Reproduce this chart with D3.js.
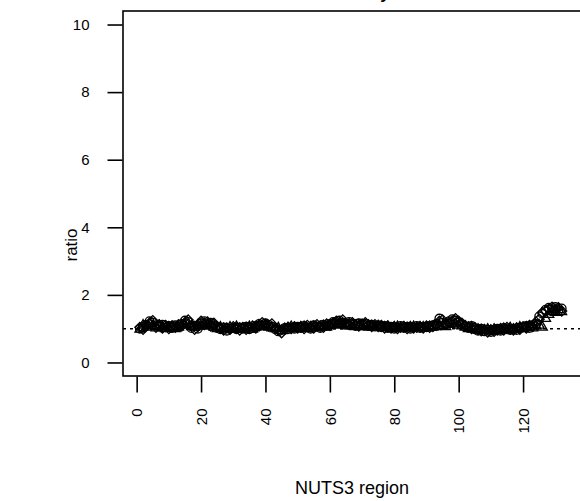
<!DOCTYPE html>
<html>
<head>
<meta charset="utf-8">
<script src="https://cdn.jsdelivr.net/npm/d3@7"></script>
<style>
  html, body { margin: 0; padding: 0; background: #fff; }
  svg { display: block; font-family: "Liberation Sans", Arial, sans-serif; }
</style>
</head>
<body>
<svg id="chart" width="580" height="501"></svg>
<script>
// Ratio per NUTS3 region, three series drawn with different point symbols
const seriesCircle = [
  1.00,1.05,1.12,1.22,1.18,1.10,1.06,1.12,1.04,1.08,
  1.02,1.10,1.06,1.14,1.24,1.20,1.02,1.08,1.00,1.16,
  1.22,1.14,1.18,1.10,1.02,0.98,1.04,0.94,1.00,1.02,
  0.98,1.04,1.00,1.06,0.98,1.02,1.08,1.14,1.10,1.16,
  1.12,1.06,0.98,0.92,0.96,1.02,0.98,1.04,1.00,1.06,
  1.02,1.08,1.04,1.00,1.10,1.06,1.02,1.12,1.08,1.14,
  1.20,1.16,1.24,1.18,1.12,1.20,1.14,1.08,1.16,1.10,
  1.14,1.08,1.12,1.06,1.10,1.04,1.08,1.02,1.06,1.00,
  1.04,1.08,1.02,1.06,1.00,1.04,1.08,1.02,1.06,1.04,
  1.08,1.10,1.14,1.30,1.18,1.12,1.22,1.28,1.24,1.18,
  1.12,1.06,1.02,1.08,0.98,0.94,1.00,0.92,0.96,0.90,
  0.96,1.00,0.94,1.02,0.98,0.96,1.00,0.96,1.02,1.04,
  1.08,1.02,1.10,1.14,1.36,1.44,1.56,1.62,1.58,1.64,1.54,1.60
];
const seriesDiamond = [
  1.04,0.98,1.08,1.16,1.24,1.04,1.12,1.02,1.10,1.00,
  1.08,1.04,1.12,1.08,1.18,1.26,1.10,0.98,1.06,1.22,
  1.12,1.20,1.08,1.16,1.06,1.02,0.96,1.02,0.98,1.06,
  1.02,0.96,1.04,0.98,1.04,1.08,1.02,1.08,1.18,1.12,
  1.08,1.14,1.02,0.96,0.88,0.98,1.04,1.00,1.06,1.02,
  1.06,1.00,1.10,1.06,1.02,1.12,1.08,1.04,1.14,1.10,
  1.16,1.22,1.18,1.26,1.16,1.12,1.18,1.12,1.08,1.14,
  1.18,1.12,1.06,1.12,1.06,1.10,1.02,1.08,1.02,1.06,
  1.00,1.04,1.06,1.00,1.06,1.02,1.04,1.06,1.02,1.08,
  1.04,1.06,1.10,1.22,1.26,1.14,1.18,1.22,1.30,1.22,
  1.16,1.10,1.06,1.00,1.04,0.98,0.94,0.98,0.90,0.96,
  0.92,0.96,1.00,0.96,1.04,1.00,0.96,1.02,0.98,1.06,
  1.02,1.10,1.06,1.20,1.28,1.48,1.52,1.58,1.64,1.56,1.62,1.52
];
const seriesTriangle = [
  0.98,1.10,1.04,1.14,1.08,1.02,1.08,1.06,1.00,1.04,
  1.06,1.00,1.04,1.10,1.12,1.14,1.06,1.04,1.10,1.08,
  1.14,1.08,1.12,1.04,1.00,1.04,1.00,0.98,1.04,0.98,
  1.06,1.00,0.98,1.02,1.06,0.98,1.04,1.10,1.06,1.10,
  1.04,1.02,1.00,1.02,0.94,1.00,1.02,1.06,1.02,1.00,
  1.04,1.06,1.00,1.04,1.06,1.02,1.06,1.08,1.04,1.08,
  1.12,1.10,1.14,1.12,1.08,1.14,1.10,1.06,1.10,1.06,
  1.10,1.04,1.08,1.04,1.08,1.06,1.04,1.06,1.00,1.04,
  1.06,1.02,1.04,1.02,1.04,1.06,1.02,1.04,1.04,1.02,
  1.06,1.04,1.06,1.10,1.08,1.06,1.12,1.16,1.14,1.10,
  1.08,1.04,1.00,1.04,1.00,0.98,0.96,0.94,0.98,0.94,
  0.98,0.94,0.98,1.00,0.96,1.02,0.98,1.00,1.04,1.00,
  1.04,1.06,1.02,1.08,1.10,1.04,1.30,1.42,1.50,1.48,1.56,1.50
];
const xTicks = [0, 20, 40, 60, 80, 100, 120];
const yTicks = [0, 2, 4, 6, 8, 10];
const referenceRatio = 1;

const titleText = "Germany";
const xTitle = "NUTS3 region";
const yTitle = "ratio";

const svg = d3.select("#chart");
const plot = { left: 123, right: 582, top: 11, bottom: 376 };

const x = d3.scaleLinear().domain([-4.24, 138.3]).range([plot.left, plot.right]);
const y = d3.scaleLinear().domain([-0.4, 10.4]).range([plot.bottom, plot.top]);

// Title, sitting above the top edge of the page so only its descender shows
svg.append("text")
  .attr("x", (plot.left + 578.6) / 2 + 2)
  .attr("y", -1)
  .attr("text-anchor", "middle")
  .attr("font-size", 17)
  .attr("font-weight", "bold")
  .text(titleText);

// Axes
const yAxis = d3.axisLeft(y).tickValues(yTicks).tickSize(15).tickPadding(18);
const gy = svg.append("g").attr("transform", `translate(${plot.left - 0.5},0)`).call(yAxis);
gy.select(".domain").remove();
gy.selectAll(".tick line").attr("stroke", "#000").attr("stroke-width", 1.6);
gy.selectAll(".tick text").attr("font-size", 15).attr("fill", "#000")
  .attr("font-family", "Liberation Sans, Arial, sans-serif");

const xAxis = d3.axisBottom(x).tickValues(xTicks).tickSize(16).tickPadding(0);
const gx = svg.append("g").attr("transform", `translate(0,${plot.bottom + 0.5})`).call(xAxis);
gx.select(".domain").remove();
gx.selectAll(".tick line").attr("stroke", "#000").attr("stroke-width", 1.6);
gx.selectAll(".tick text")
  .attr("font-size", 15).attr("fill", "#000")
  .attr("font-family", "Liberation Sans, Arial, sans-serif")
  .attr("text-anchor", "end")
  .attr("transform", "translate(0,32) rotate(-90)")
  .attr("x", 0).attr("y", 0).attr("dy", "0.35em");

// Reference line at ratio = 1
svg.append("line")
  .attr("x1", x(-4.24)).attr("x2", plot.right)
  .attr("y1", y(referenceRatio)).attr("y2", y(referenceRatio))
  .attr("stroke", "#000").attr("stroke-width", 1.4)
  .attr("stroke-dasharray", "3,4");

// Points
const pts = svg.append("g").attr("fill", "none").attr("stroke", "#000").attr("stroke-width", 1.3);

pts.selectAll("circle.c").data(seriesCircle).join("circle")
  .attr("class", "c")
  .attr("cx", (d, i) => x(i + 1))
  .attr("cy", d => y(d))
  .attr("r", 4.3);

const diamond = d3.symbol(d3.symbolSquare, 50)();
pts.selectAll("path.d").data(seriesDiamond).join("path")
  .attr("class", "d")
  .attr("d", diamond)
  .attr("transform", (d, i) => `translate(${x(i + 1)},${y(d)}) rotate(45)`);

const tri = d3.symbol(d3.symbolTriangle, 42)();
pts.selectAll("path.t").data(seriesTriangle).join("path")
  .attr("class", "t")
  .attr("d", tri)
  .attr("transform", (d, i) => `translate(${x(i + 1)},${y(d)})`);

// Plot frame
svg.append("rect")
  .attr("x", plot.left).attr("y", plot.top)
  .attr("width", plot.right - plot.left).attr("height", plot.bottom - plot.top)
  .attr("fill", "none").attr("stroke", "#000").attr("stroke-width", 1.6);

// Axis titles
svg.append("text")
  .attr("transform", `translate(77,245) rotate(-90)`)
  .attr("text-anchor", "middle")
  .attr("font-size", 17)
  .text(yTitle);

svg.append("text")
  .attr("x", 352).attr("y", 494)
  .attr("text-anchor", "middle")
  .attr("font-size", 18)
  .text(xTitle);
</script>
</body>
</html>
